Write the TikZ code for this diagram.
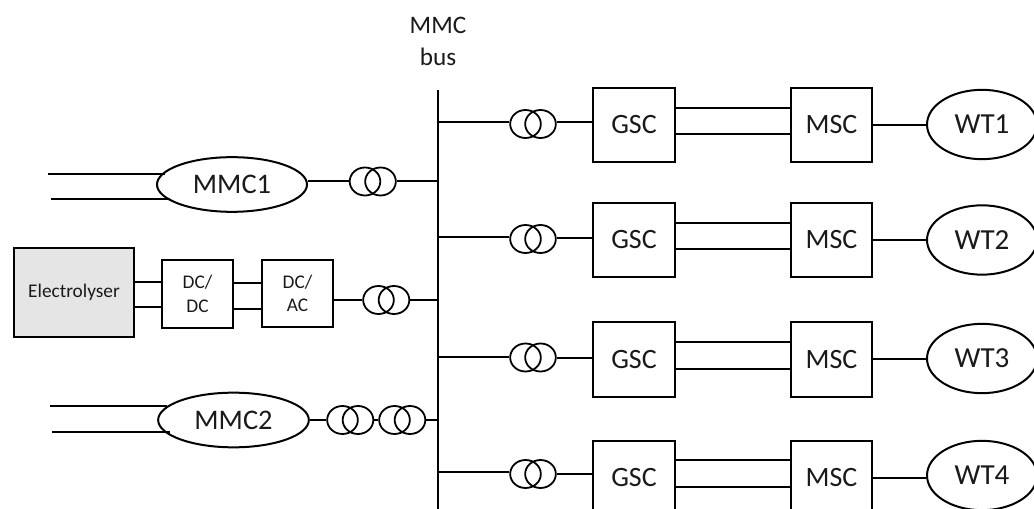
\documentclass[tikz,border=0pt]{standalone}
\usepackage{fontspec}
\setmainfont{Carlito}
\usetikzlibrary{shapes.geometric}
\definecolor{txt}{HTML}{1A1A1A}
\tikzset{
  ln/.style={draw=black,line width=1.5pt},
  box/.style={ln,rectangle,inner sep=0pt,anchor=north west,align=center},
  ell/.style={ln,ellipse,inner sep=0pt,fill=white},
  coil/.style={draw=black,line width=1.35pt,ellipse,inner sep=0pt,minimum width=23pt,minimum height=21pt},
  big/.style={font=\fontsize{21}{22}\selectfont,text=txt},
  wtfont/.style={font=\fontsize{21.8}{22}\selectfont,text=txt},
  huge1/.style={font=\fontsize{21.3}{22}\selectfont,text=txt},
  small1/.style={font=\fontsize{14.5}{17.5}\selectfont,text=txt,align=center}
}
\newcommand{\trafo}[3]{% name, left-centre x, y
  \node[coil] (#1a) at (#2,#3) {};
  \node[coil] (#1b) at (#2+15.5,#3) {};
}
\begin{document}
\begin{tikzpicture}[x=0.75pt,y=-0.75pt]
\useasboundingbox (0,0) rectangle (1034,509);
\begin{scope}
\clip (0,0) rectangle (1034,509);
% bus
\coordinate (bust) at (438,90);
\coordinate (busb) at (438,509);
\draw[ln] (bust) -- (busb);
\node[font=\fontsize{18.9}{24}\selectfont,text=txt,align=center] (buslabel) at (438,41.5) {MMC\\bus};

% MMC1
\coordinate (m1a) at (48,174); \coordinate (m1b) at (51,199.5);
\coordinate (m1ae) at (165,174); \coordinate (m1be) at (170,199.5);
\draw[ln] (m1a) -- (m1ae);
\draw[ln] (m1b) -- (m1be);
\node[ell,minimum width=112.5pt,minimum height=41pt,fill=none,huge1] (mmc1) at (232,184.5) {MMC1};
\trafo{t1}{365}{181.5}
\coordinate (b1) at (438,181.5);
\draw[ln] (mmc1.east |- b1) -- (t1a.west);
\draw[ln] (t1b.east) -- (b1);

% Electrolyser chain
\node[box,minimum width=90pt,minimum height=66.75pt,fill=gray!20,font=\fontsize{14.5}{15}\selectfont,text=txt] (el) at (13,247) {Electrolyser};
\node[box,minimum width=53.25pt,minimum height=51pt,small1] (dd) at (161,259) {DC/\\DC};
\node[box,minimum width=53.25pt,minimum height=50.25pt,small1] (da) at (261,259) {DC/\\AC};
\draw[ln] (el.east |- 0,282.5) -- (dd.west |- 0,282.5);
\draw[ln] (el.east |- 0,307.5) -- (dd.west |- 0,307.5);
\draw[ln] (dd.east |- 0,283.5) -- (da.west |- 0,283.5);
\draw[ln] (dd.east |- 0,309) -- (da.west |- 0,309);
\trafo{t2}{378.5}{300}
\coordinate (b2) at (438,300);
\draw[ln] (da.east |- b2) -- (t2a.west);
\draw[ln] (t2b.east) -- (b2);

% MMC2
\coordinate (m2a) at (50,406); \coordinate (m2b) at (52,431.5);
\coordinate (m2ae) at (167,406); \coordinate (m2be) at (170,431.5);
\draw[ln] (m2a) -- (m2ae);
\draw[ln] (m2b) -- (m2be);
\node[ell,minimum width=113pt,minimum height=41pt,fill=none,huge1] (mmc2) at (233.5,420) {MMC2};
\trafo{t3}{342.5}{420}
\trafo{t4}{394.5}{420}
\coordinate (b3) at (438,420);
\draw[ln] (mmc2.east) -- (t3a.west);
\draw[ln] (t3b.east) -- (t4a.west);
\draw[ln] (t4b.east) -- (b3);

% Rows: number, top, stub y, trafo y, gsc-line y, dc1, dc2, msc-line y, wt cy
\foreach \n/\top/\stub/\ty/\gy/\da/\db/\my/\wy in {
  1/87/122/124/122/108/134.5/125/124.5,
  2/202/237.5/239/238.5/223/249/240/240,
  3/321.5/356.5/357.5/357.5/342/369/359/358.5,
  4/440/472/474/474/460/487/478/475.5}{
  \node[box,minimum width=61.5pt,minimum height=55.5pt,big] (gsc\n) at (592,\top) {GSC};
  \node[box,minimum width=60.75pt,minimum height=55.5pt,big] (msc\n) at (790,\top) {MSC};
  \node[ell,minimum width=82.5pt,minimum height=52pt,wtfont] (wt\n) at (982,\wy) {WT\n};
  \node[coil] (r\n a) at (525.5,\ty) {};
  \node[coil] (r\n b) at (540.5,\ty) {};
  \coordinate (s\n) at (438,\stub);
  \draw[ln] (s\n) -- (r\n a.west |- s\n);
  \draw[ln] (r\n b.east |- 0,\gy) -- (gsc\n.west |- 0,\gy);
  \draw[ln] (gsc\n.east |- 0,\da) -- (msc\n.west |- 0,\da);
  \draw[ln] (gsc\n.east |- 0,\db) -- (msc\n.west |- 0,\db);
  \draw[ln] (msc\n.east |- 0,\my) -- (wt\n.west |- 0,\my);
}
\end{scope}
\end{tikzpicture}
\end{document}
